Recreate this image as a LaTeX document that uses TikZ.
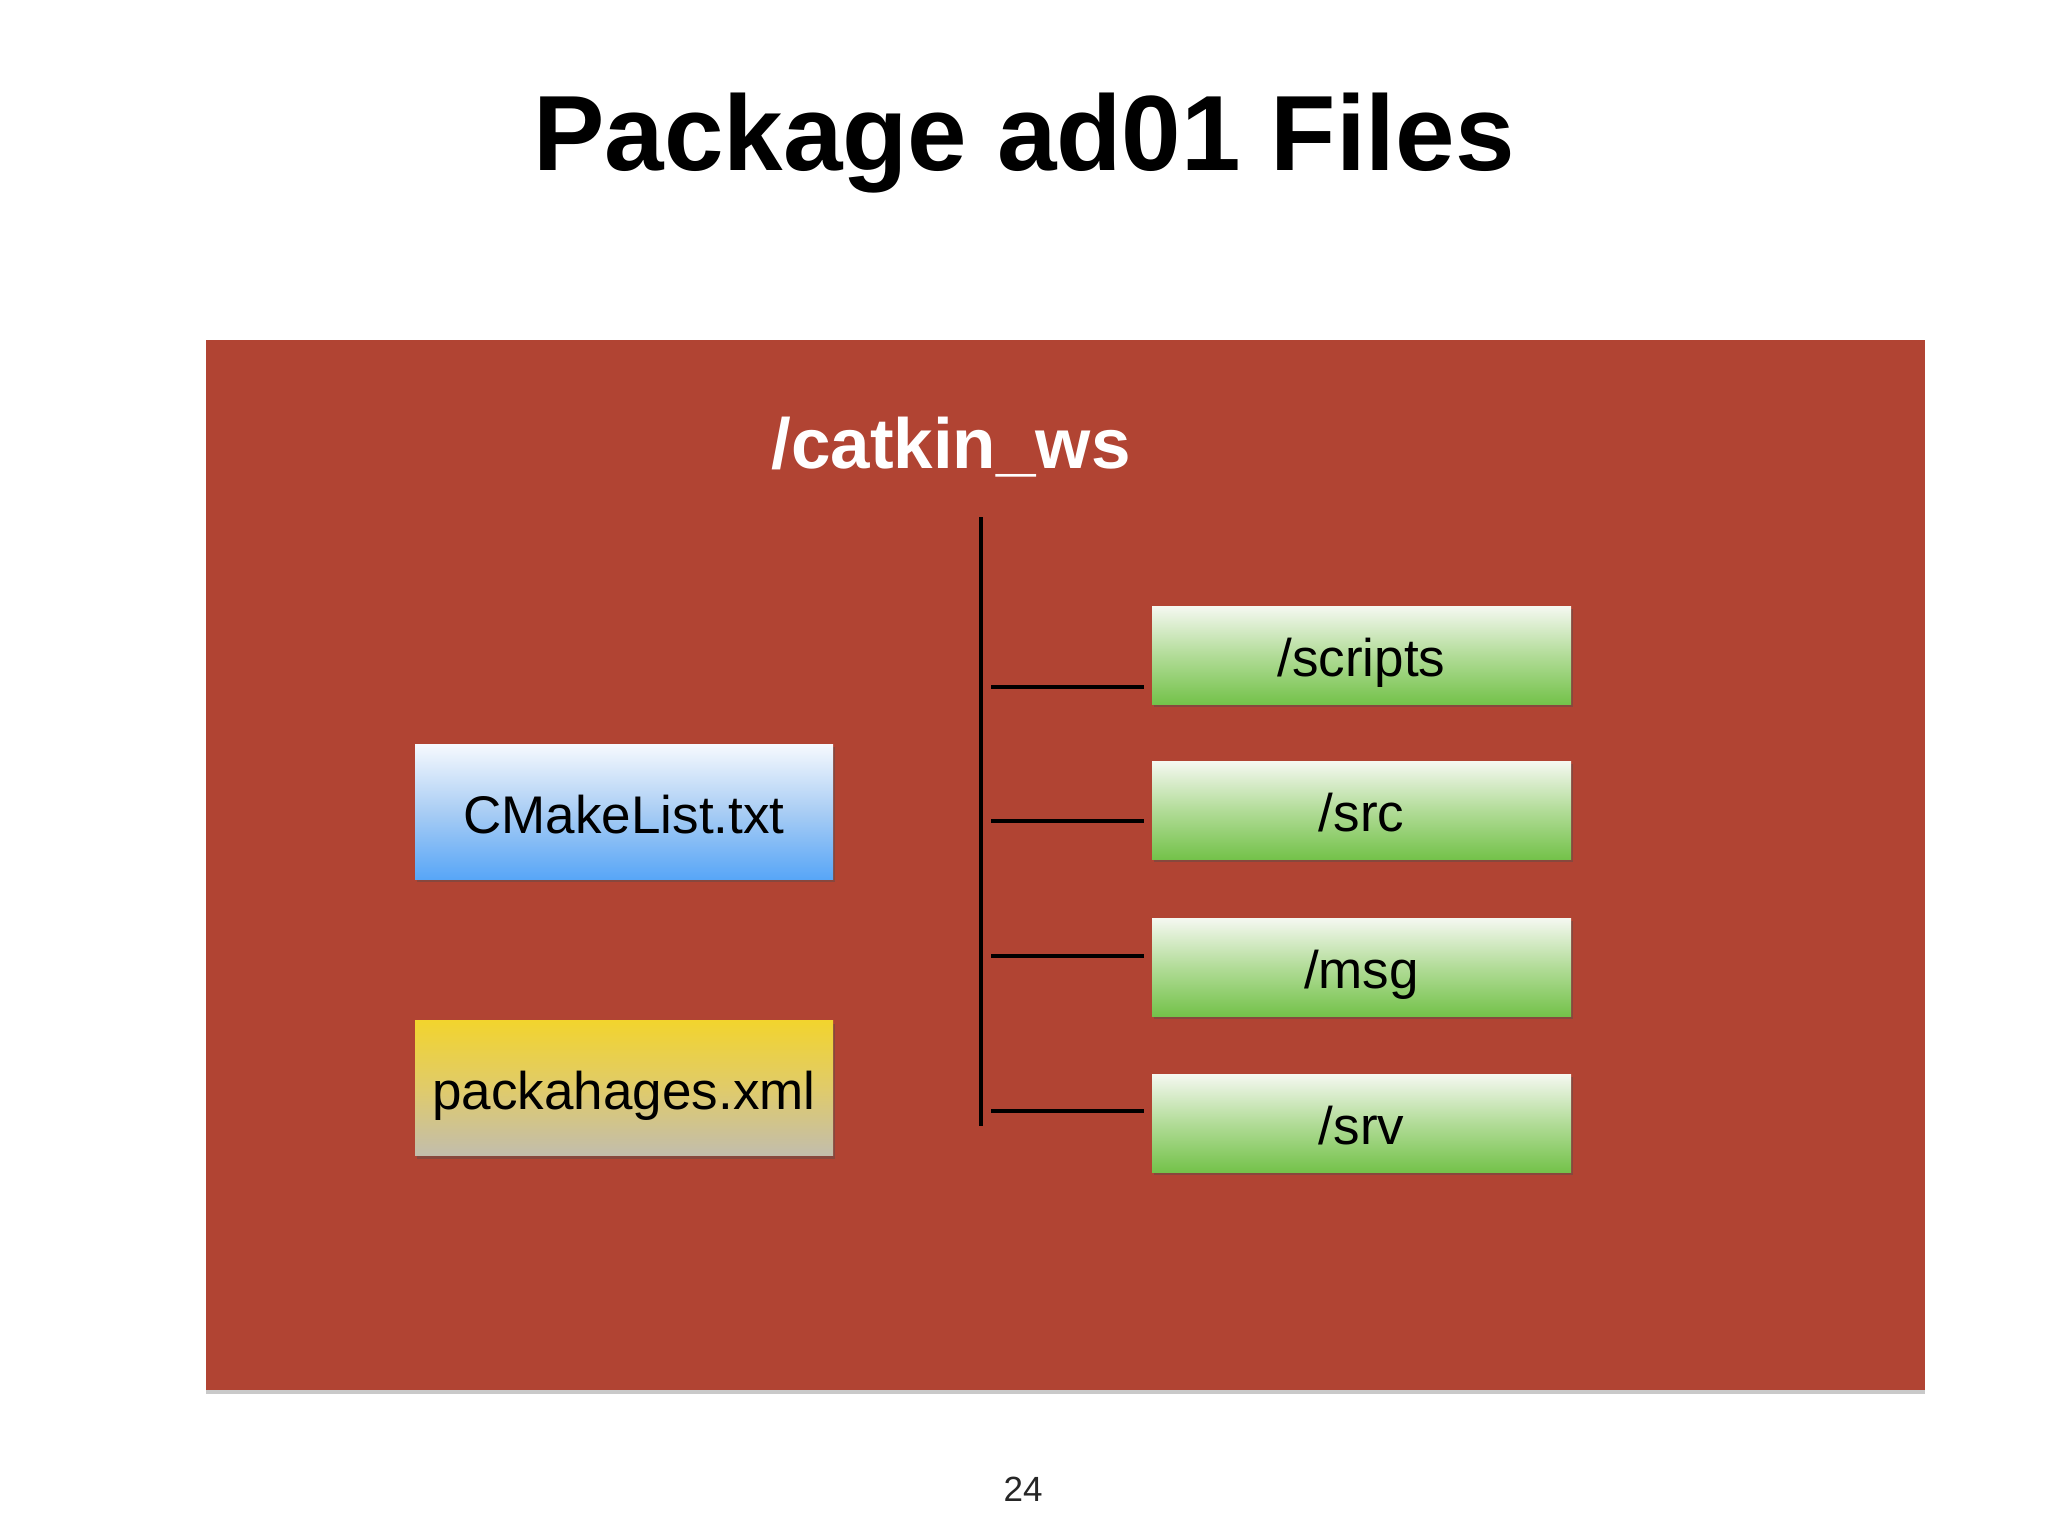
\documentclass[tikz,border=0pt]{standalone}
\usepackage{fontspec}
\setmainfont{Liberation Sans}
\usetikzlibrary{shadows}
\definecolor{boardred}{HTML}{B14433}
\definecolor{bluetop}{HTML}{F6F9FE}
\definecolor{bluemid}{HTML}{A9CDF4}
\definecolor{bluebot}{HTML}{58A6F7}
\definecolor{yeltop}{HTML}{F2D42E}
\definecolor{yelmid}{HTML}{E0CB6A}
\definecolor{yelbot}{HTML}{C2BDAC}
\definecolor{grntop}{HTML}{F5F8F1}
\definecolor{grnmid}{HTML}{B2DC98}
\definecolor{grnbot}{HTML}{74C24A}
\tikzset{
  boxshadow/.style={drop shadow={opacity=0.4, shadow xshift=2pt, shadow yshift=-3pt, fill=black!70}},
  filebox/.style={rectangle, inner sep=0pt, minimum width=418pt, minimum height=135pt,
    text height=54pt, text depth=11pt,
    font=\fontsize{53}{57}\selectfont, text=black, boxshadow},
  bluebox/.style={filebox, top color=bluetop, bottom color=bluebot, middle color=bluemid},
  yellowbox/.style={filebox, top color=yeltop, bottom color=yelbot, middle color=yelmid},
  dirbox/.style={filebox, minimum width=419pt, minimum height=98pt,
    top color=grntop, bottom color=grnbot, middle color=grnmid},
  branch/.style={draw=black, line width=3.5pt},
}
\begin{document}
\begin{tikzpicture}[x=1pt, y=-1pt]
  \useasboundingbox (0,0) rectangle (2048,1536);
  \fill[white] (0,0) rectangle (2048,1536);
  % title
  \node[anchor=base, inner sep=0pt, font=\fontsize{107}{110}\selectfont\bfseries] (title) at (1024,170) {Package ad01 Files};
  % board
  \node[rectangle, inner sep=0pt, fill=boardred, minimum width=1719pt, minimum height=1050pt,
        drop shadow={opacity=0.35, shadow xshift=0pt, shadow yshift=-4pt, fill=black!60}] (board) at (1065.5,865) {};
  \node[anchor=base, inner sep=0pt, text=white, font=\fontsize{71}{75}\selectfont\bfseries] (ws) at (951,468) {/catkin\_ws};
  % files
  \node[bluebox] (cmake) at (624,811.5) {CMakeList.txt};
  \node[yellowbox] (pkg) at (624,1088) {packahages.xml};
  % dirs
  \node[dirbox] (scripts) at (1361.5,655) {/scripts};
  \node[dirbox] (src) at (1361.5,810) {/src};
  \node[dirbox] (msg) at (1361.5,967) {/msg};
  \node[dirbox] (srv) at (1361.5,1123) {/srv};
  % tree
  \coordinate (trunktop) at (981,517);
  \coordinate (trunkbot) at (981,1126);
  \draw[branch] (trunktop) -- (trunkbot);
  \coordinate (b1) at (991,687);
  \coordinate (b2) at (991,821);
  \coordinate (b3) at (991,956);
  \coordinate (b4) at (991,1111);
  \draw[branch, shorten >=8pt] (b1) -- (b1 -| scripts.west);
  \draw[branch, shorten >=8pt] (b2) -- (b2 -| src.west);
  \draw[branch, shorten >=8pt] (b3) -- (b3 -| msg.west);
  \draw[branch, shorten >=8pt] (b4) -- (b4 -| srv.west);
  % page number
  \node[anchor=base, inner sep=0pt, font=\fontsize{35}{38}\selectfont, text=black!85] (pagenum) at (1023,1501) {24};
\end{tikzpicture}
\end{document}
